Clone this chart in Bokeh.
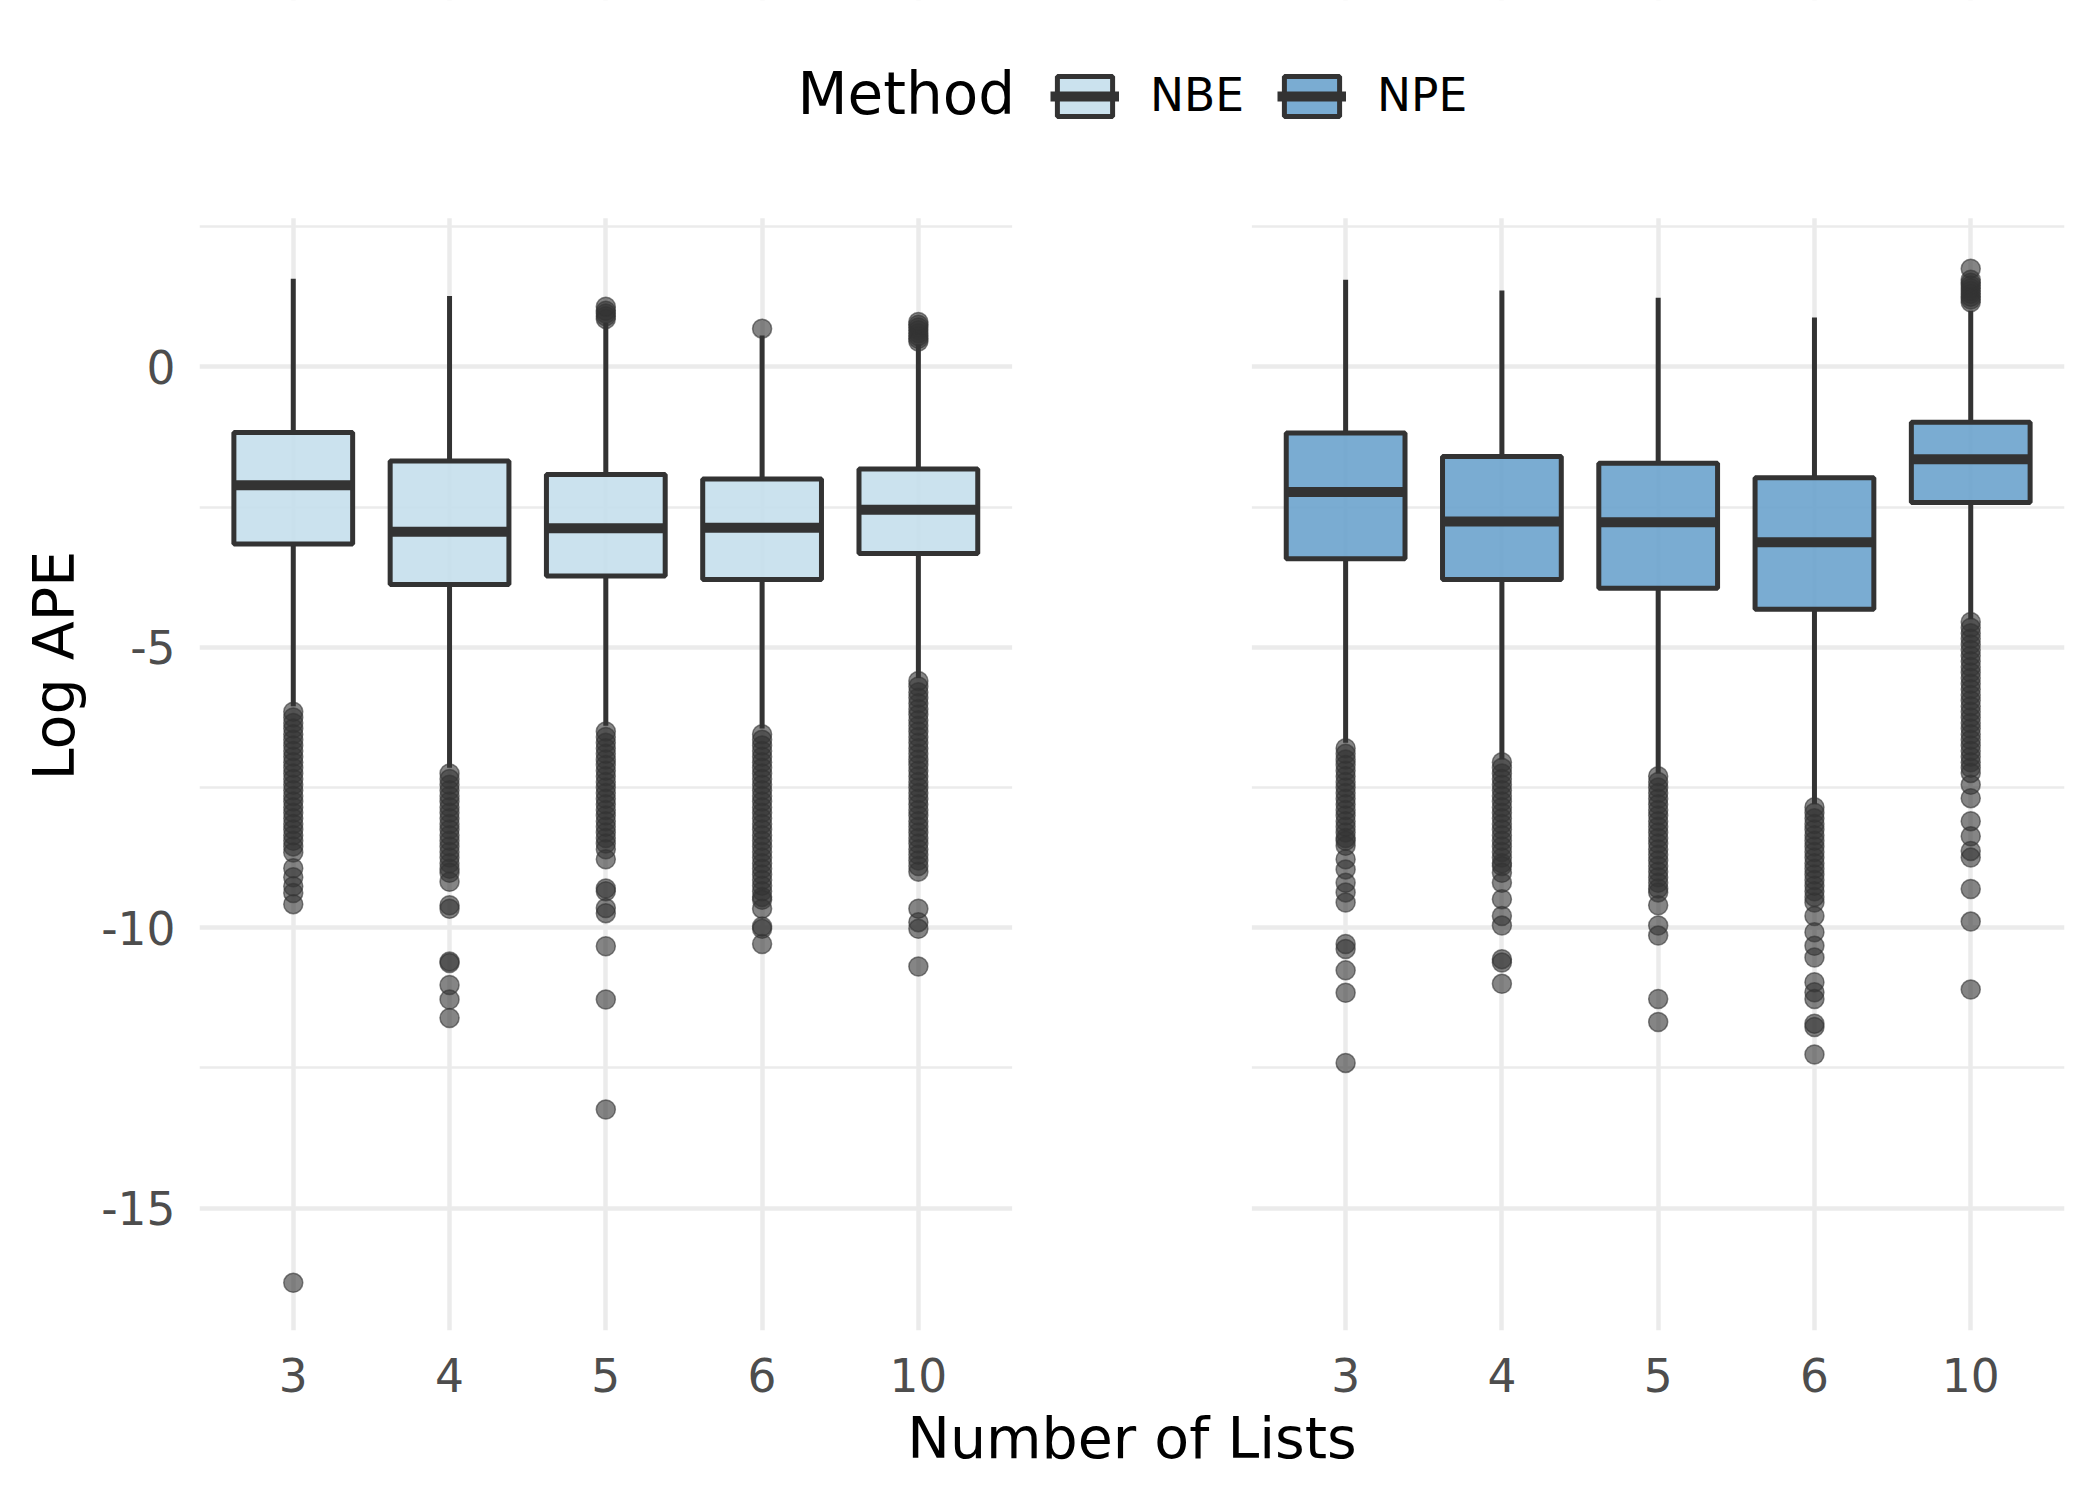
from bokeh.plotting import figure
from bokeh.models import (ColumnDataSource, Range1d, FixedTicker, Legend, LegendItem, Label,
                          BoxAnnotation)
from bokeh.transform import dodge
from bokeh.embed import file_html
from bokeh.resources import INLINE

# ---------------- data ----------------
categories = ["3", "4", "5", "6", "10"]
methods = ["NBE", "NPE"]
method_colors = ["#C5DFEC", "#6BA3CD"]

nbe_q1 = [-3.16, -3.88, -3.73, -3.79, -3.33]
nbe_median = [-2.11, -2.94, -2.88, -2.87, -2.55]
nbe_q3 = [-1.17, -1.68, -1.92, -2.00, -1.82]
nbe_lower = [-6.05, -7.15, -6.40, -6.45, -5.55]
nbe_upper = [1.57, 1.26, 0.78, 0.56, 0.40]

npe_q1 = [-3.42, -3.79, -3.95, -4.32, -2.42]
npe_median = [-2.23, -2.76, -2.77, -3.13, -1.65]
npe_q3 = [-1.18, -1.60, -1.72, -1.98, -0.99]
npe_lower = [-6.70, -7.00, -7.25, -7.80, -4.50]
npe_upper = [1.55, 1.36, 1.23, 0.88, 1.00]

# outliers (NBE)
nbe_out_3 = [-6.15, -6.25, -6.35, -6.45, -6.55, -6.65, -6.75, -6.85, -6.95, -7.05, -7.15, -7.25,
             -7.35, -7.45, -7.55, -7.65, -7.75, -7.85, -7.95, -8.05, -8.15, -8.25, -8.35, -8.45,
             -8.55, -8.66, -8.94, -9.10, -9.26, -9.38, -9.58, -16.33]
nbe_out_4 = [-7.25, -7.35, -7.45, -7.55, -7.65, -7.75, -7.85, -7.95, -8.05, -8.15, -8.25, -8.35,
             -8.45, -8.55, -8.65, -8.75, -8.85, -8.95, -9.02, -9.18, -9.60, -9.66, -10.60, -10.63,
             -11.02, -11.28, -11.61]
nbe_out_5 = [0.85, 0.90, 0.95, 1.00, 1.07,
             -6.50, -6.60, -6.70, -6.80, -6.90, -7.00, -7.10, -7.20, -7.30, -7.40, -7.50, -7.60,
             -7.70, -7.80, -7.90, -8.00, -8.10, -8.20, -8.30, -8.40, -8.50, -8.60, -8.78, -9.30,
             -9.35, -9.65, -9.74, -10.33, -11.28, -13.24]
nbe_out_6 = [0.68,
             -6.55, -6.65, -6.75, -6.85, -6.95, -7.05, -7.15, -7.25, -7.35, -7.45, -7.55, -7.65,
             -7.75, -7.85, -7.95, -8.05, -8.15, -8.25, -8.35, -8.45, -8.55, -8.65, -8.75, -8.85,
             -8.95, -9.05, -9.15, -9.25, -9.35, -9.45, -9.50, -9.66, -9.98, -10.02, -10.29]
nbe_out_10 = [0.45, 0.50, 0.55, 0.60, 0.65, 0.70, 0.75, 0.80,
              -5.60, -5.70, -5.80, -5.90, -6.00, -6.10, -6.20, -6.30, -6.40, -6.50, -6.60, -6.70,
              -6.80, -6.90, -7.00, -7.10, -7.20, -7.30, -7.40, -7.50, -7.60, -7.70, -7.80, -7.90,
              -8.00, -8.10, -8.20, -8.30, -8.40, -8.50, -8.60, -8.70, -8.80, -8.90, -9.00, -9.66,
              -9.90, -10.02, -10.69]

# outliers (NPE)
npe_out_3 = [-6.80, -6.90, -7.00, -7.10, -7.20, -7.30, -7.40, -7.50, -7.60, -7.70, -7.80, -7.90,
             -8.00, -8.10, -8.20, -8.30, -8.40, -8.45, -8.54, -8.78, -8.96, -9.20, -9.37, -9.55,
             -10.29, -10.38, -10.76, -11.16, -12.41]
npe_out_4 = [-7.05, -7.15, -7.25, -7.35, -7.45, -7.55, -7.65, -7.75, -7.85, -7.95, -8.05, -8.15,
             -8.25, -8.35, -8.45, -8.55, -8.65, -8.75, -8.85, -8.90, -9.02, -9.20, -9.49, -9.79,
             -9.96, -10.56, -10.62, -11.00]
npe_out_5 = [-7.30, -7.40, -7.50, -7.60, -7.70, -7.80, -7.90, -8.00, -8.10, -8.20, -8.30, -8.40,
             -8.50, -8.60, -8.70, -8.80, -8.90, -9.00, -9.10, -9.20, -9.30, -9.37, -9.60, -9.96,
             -10.14, -11.27, -11.68]
npe_out_6 = [-7.85, -7.95, -8.05, -8.15, -8.25, -8.35, -8.45, -8.55, -8.65, -8.75, -8.85, -8.95,
             -9.05, -9.15, -9.25, -9.35, -9.45, -9.55, -9.79, -10.08, -10.32, -10.53, -10.97,
             -11.15, -11.27, -11.71, -11.77, -12.26]
npe_out_10 = [1.15, 1.20, 1.25, 1.30, 1.35, 1.40, 1.45, 1.50, 1.55, 1.75,
              -4.55, -4.65, -4.75, -4.85, -4.95, -5.05, -5.15, -5.25, -5.35, -5.45, -5.55, -5.65,
              -5.75, -5.85, -5.95, -6.05, -6.15, -6.25, -6.35, -6.45, -6.55, -6.65, -6.75, -6.85,
              -6.95, -7.05, -7.15, -7.24, -7.45, -7.69, -8.10, -8.37, -8.63, -8.75, -9.31, -9.89,
              -11.10]

nbe_outliers = [nbe_out_3, nbe_out_4, nbe_out_5, nbe_out_6, nbe_out_10]
npe_outliers = [npe_out_3, npe_out_4, npe_out_5, npe_out_6, npe_out_10]

y_ticks = [-15, -10, -5, 0]
y_minor = [-12.5, -7.5, -2.5, 2.5]
panel_y_top = 2.65      # upper limit of each facet panel (data units)

# ---------------- layout constants ----------------
FONT = "DejaVu Sans"
DARK = "#333333"
GRID = "#EBEBEB"
TICK_COL = "#4D4D4D"
PAD = 0.6             # panel expansion (category units)
RIGHT_SHIFT = 6.734   # offset of the second facet panel along x

W, H = 2084, 1484
BL, BR, BT, BB = 199, 20, 0, 154

left_pos = [i + 1.0 for i in range(len(categories))]
right_pos = [x + RIGHT_SHIFT for x in left_pos]

p = figure(
    width=W, height=H,
    x_range=Range1d(left_pos[0] - PAD, right_pos[-1] + PAD),
    y_range=Range1d(-17.18, 6.53),
    toolbar_location=None, output_backend="svg",
    min_border_left=BL, min_border_right=BR, min_border_top=BT, min_border_bottom=BB,
    outline_line_color=None, background_fill_color="white", border_fill_color="white",
)

# grids
xticker = FixedTicker(ticks=left_pos + right_pos, minor_ticks=[])
yticker = FixedTicker(ticks=y_ticks, minor_ticks=y_minor)
p.xgrid.ticker = xticker
p.ygrid.ticker = yticker
p.xgrid.grid_line_color = GRID
p.xgrid.grid_line_width = 4.5
p.ygrid.grid_line_color = GRID
p.ygrid.grid_line_width = 4.5
p.ygrid.minor_grid_line_color = GRID
p.ygrid.minor_grid_line_width = 2.5

# blank areas outside the two facet panels (gap between them, strip above them)
p.add_layout(BoxAnnotation(left=left_pos[-1] + PAD, right=right_pos[0] - PAD, fill_color="white",
                           fill_alpha=1.0, line_color=None, level="underlay"))
p.add_layout(BoxAnnotation(bottom=panel_y_top, fill_color="white", fill_alpha=1.0,
                           line_color=None, level="underlay"))


def draw_panel(pos, q1, med, q3, lo, hi, outliers, fill):
    src = ColumnDataSource(dict(x=pos, q1=q1, med=med, q3=q3, lo=lo, hi=hi))
    ox, oy = [], []
    for xpos, vals in zip(pos, outliers):
        ox += [xpos] * len(vals)
        oy += vals
    osrc = ColumnDataSource(dict(x=ox, y=oy))
    p.scatter("x", "y", source=osrc, size=19, fill_color=DARK, fill_alpha=0.6,
              line_color=DARK, line_alpha=0.6, line_width=1.5)
    p.segment(x0="x", x1="x", y0="q3", y1="hi", source=src, line_color=DARK, line_width=5)
    p.segment(x0="x", x1="x", y0="q1", y1="lo", source=src, line_color=DARK, line_width=5)
    box = p.vbar(x="x", top="q3", bottom="q1", width=0.76, source=src, fill_color=fill,
                 fill_alpha=0.9, line_color=DARK, line_width=5)
    median = p.segment(x0=dodge("x", -0.38), x1=dodge("x", 0.38), y0="med", y1="med",
                       source=src, line_color=DARK, line_width=10)
    return box, median


nbe_box, nbe_med = draw_panel(left_pos, nbe_q1, nbe_median, nbe_q3, nbe_lower, nbe_upper,
                              nbe_outliers, method_colors[0])
npe_box, npe_med = draw_panel(right_pos, npe_q1, npe_median, npe_q3, npe_lower, npe_upper,
                              npe_outliers, method_colors[1])

# axes
p.xaxis.ticker = xticker
p.xaxis.major_label_overrides = {x: c for x, c in zip(left_pos + right_pos, categories + categories)}
p.xaxis.axis_line_color = None
p.xaxis.major_tick_line_color = None
p.xaxis.minor_tick_line_color = None
p.xaxis.major_tick_out = 0
p.xaxis.major_tick_in = 0
p.xaxis.minor_tick_out = 0
p.xaxis.major_label_text_font = FONT
p.xaxis.major_label_text_font_size = "45.5px"
p.xaxis.major_label_text_color = TICK_COL
p.xaxis.major_label_standoff = 27
p.xaxis.axis_label = "Number of Lists"
p.xaxis.axis_label_text_font = FONT
p.xaxis.axis_label_text_font_size = "57px"
p.xaxis.axis_label_text_font_style = "normal"
p.xaxis.axis_label_text_color = "black"
p.xaxis.axis_label_standoff = 10

p.yaxis.ticker = yticker
p.yaxis.major_label_overrides = {v: str(v) for v in y_ticks}
p.yaxis.axis_line_color = None
p.yaxis.major_tick_line_color = None
p.yaxis.minor_tick_line_color = None
p.yaxis.major_tick_out = 0
p.yaxis.major_tick_in = 0
p.yaxis.minor_tick_out = 0
p.yaxis.major_label_text_font = FONT
p.yaxis.major_label_text_font_size = "45.5px"
p.yaxis.major_label_text_color = TICK_COL
p.yaxis.major_label_standoff = 24
p.yaxis.axis_label = "Log APE"
p.yaxis.axis_label_text_font = FONT
p.yaxis.axis_label_text_font_size = "57px"
p.yaxis.axis_label_text_font_style = "normal"
p.yaxis.axis_label_text_color = "black"
p.yaxis.axis_label_standoff = 11

# legend (in the blank strip above the panels)
frame_h = H - BT - BB
leg = Legend(
    items=[LegendItem(label=methods[0], renderers=[nbe_box, nbe_med]),
           LegendItem(label=methods[1], renderers=[npe_box, npe_med])],
    orientation="horizontal", location=(851, frame_h - 122),
    glyph_width=69, glyph_height=50, label_height=46, label_standoff=31, spacing=33,
    padding=0, margin=0, label_text_font=FONT, label_text_font_size="45.5px",
    label_text_color="black", background_fill_alpha=0, border_line_alpha=0,
)
p.add_layout(leg)
p.add_layout(Label(x=598, y=frame_h - 93.6, x_units="screen", y_units="screen", text="Method",
                   text_font=FONT, text_font_size="58px", text_color="black",
                   text_baseline="alphabetic", text_align="left"))

open("out.html", "w").write(file_html(p, INLINE))
